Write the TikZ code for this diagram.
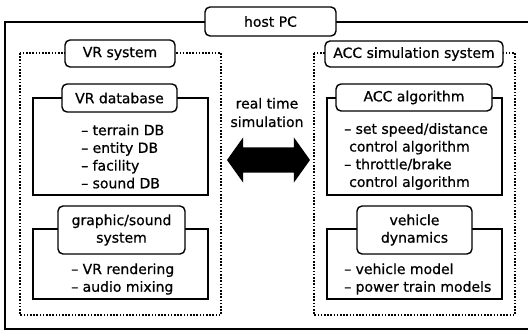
\documentclass[tikz,border=0pt]{standalone}
\usepackage{fontspec}
\setmainfont{DejaVu Sans}[FakeBold=0.7]
\usetikzlibrary{shapes.arrows}
\tikzset{
  lbl/.style={draw=black, line width=1.4pt, rounded corners=5pt, fill=white, inner sep=0pt, align=center, font=\fontsize{14}{17.5}\selectfont},
  solidbox/.style={draw=black, line width=1.4pt},
  dotbox/.style={draw=black, line width=2.2pt, dash pattern=on 1.6pt off 1.6pt},
  items/.style={inner sep=0pt, align=left, anchor=west, font=\fontsize{14}{17.7}\selectfont},
  outer/.style={draw=black, line width=2.2pt},
}
\begin{document}
\begin{tikzpicture}[x=1pt,y=-1pt]
\useasboundingbox (0,0) rectangle (528,333);
% outer host PC frame (right side runs off the picture)
\coordinate (otr) at (530,22);
\coordinate (otl) at (5,22);
\coordinate (obl) at (5,329);
\coordinate (obr) at (530,329);
\draw[outer] (otr) -- (otl) -- (obl) -- (obr);
% dotted system boxes
\draw[dotbox] (20,53) rectangle (221,315);
\draw[dotbox] (314,53) rectangle (515,315);
% solid module boxes
\draw[solidbox] (33,98) rectangle (208,195);
\draw[solidbox] (33,229) rectangle (208,299);
\draw[solidbox] (327,98) rectangle (502,195);
\draw[solidbox] (327,229) rectangle (502,299);
% labels
\node[lbl, minimum width=131pt, minimum height=29pt] (host) at (270.5,21.5) {host PC};
\node[lbl, minimum width=110pt, minimum height=27pt] (vrsys) at (120,53.5) {VR system};
\node[lbl, minimum width=178pt, minimum height=26pt] (accsys) at (414,54) {ACC simulation system};
\node[lbl, minimum width=115pt, minimum height=28pt] (vrdb) at (119.5,98) {VR database};
\node[lbl, minimum width=127pt, minimum height=48pt] (gs) at (121.5,230) {graphic/sound\\system};
\node[lbl, minimum width=156pt, minimum height=27pt] (accalg) at (414,97.5) {ACC algorithm};
\node[lbl, minimum width=115pt, minimum height=48pt] (vd) at (414.5,230) {vehicle\\dynamics};
% item lists
\node[items] (vrdbitems) at (81,156.5) {– terrain DB\\– entity DB\\– facility\\– sound DB};
\node[items] (gsitems) at (71,279) {– VR rendering\\– audio mixing};
\node[items] (accitems) at (344,156.5) {– set speed/distance\\\hspace*{5pt}control algorithm\\– throttle/brake\\\hspace*{5pt}control algorithm};
\node[items] (vditems) at (344,279) {– vehicle model\\– power train models};
% real time simulation
\node[inner sep=0pt, align=center, font=\fontsize{14}{18.5}\selectfont] (rts) at (267,112.5) {real time\\simulation};
\node[double arrow, fill=black, draw=none, inner xsep=0pt, inner ysep=12.5pt, minimum height=83pt, double arrow head extend=10pt, double arrow tip angle=109] (sync) at (268.5,160) {};
\end{tikzpicture}
\end{document}
